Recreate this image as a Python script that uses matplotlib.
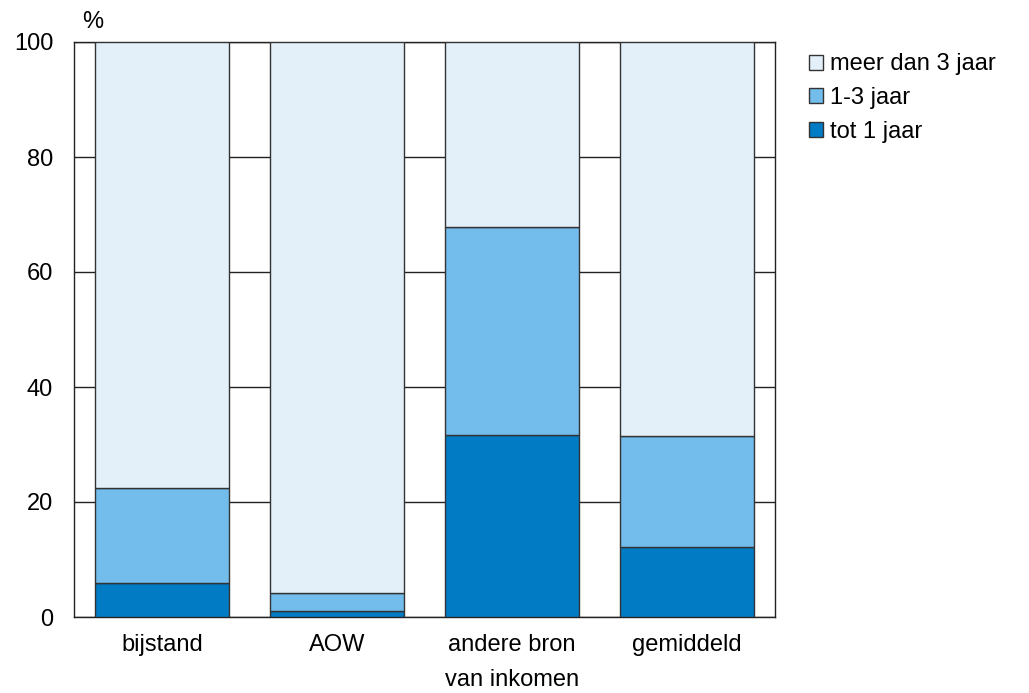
import numpy as np
import matplotlib.pyplot as plt

plt.rcParams['font.family'] = ['Liberation Sans', 'DejaVu Sans']

# data
categories = ['bijstand', 'AOW', 'andere bron\nvan inkomen', 'gemiddeld']
tot_1_jaar = [5.9, 1.0, 31.7, 12.2]
een_drie_jaar = [16.5, 3.2, 36.1, 19.3]
meer_dan_3 = [77.6, 95.8, 32.2, 68.5]

fig = plt.figure(figsize=(10.29, 6.93), dpi=100)
ax = fig.add_axes([74 / 1029, 1 - 617 / 693, 701 / 1029, 575 / 693])

x = np.arange(len(categories))
w = 0.766
b1 = np.array(tot_1_jaar)
b2 = b1 + np.array(een_drie_jaar)

ax.bar(x, tot_1_jaar, w, color='#007bc4', edgecolor='#333333', linewidth=1, label='tot 1 jaar', zorder=3)
ax.bar(x, een_drie_jaar, w, bottom=b1, color='#72bdec', edgecolor='#333333', linewidth=1, label='1-3 jaar', zorder=3)
ax.bar(x, meer_dan_3, w, bottom=b2, color='#e3f0fa', edgecolor='#333333', linewidth=1, label='meer dan 3 jaar', zorder=3)

ax.set_xlim(-0.503, 3.503)
ax.set_ylim(0, 100)
ax.set_yticks([0, 20, 40, 60, 80, 100])
ax.set_xticks(x)
ax.set_xticklabels(categories, linespacing=1.8)
ax.tick_params(length=0, labelsize=17)
ax.tick_params(axis='x', pad=12)
ax.tick_params(axis='y', pad=15)
ax.yaxis.grid(True, color='#222222', linewidth=1, zorder=0)
for s in ax.spines.values():
    s.set_color('#222222')
    s.set_linewidth(1)

ax.text(0.026, 1.015, '%', transform=ax.transAxes, fontsize=17, ha='center', va='bottom')

h, l = ax.get_legend_handles_labels()
ax.legend(h[::-1], l[::-1], loc='upper left', bbox_to_anchor=(1.018, 1.017), frameon=False,
          fontsize=17, handlelength=0.6, handleheight=0.6, handletextpad=0.3, labelspacing=0.5)

fig.savefig('out.png', dpi=100)
